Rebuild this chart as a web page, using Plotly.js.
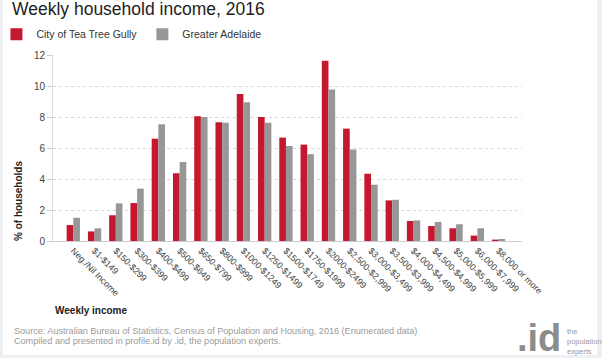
<!DOCTYPE html>
<html>
<head>
<meta charset="utf-8">
<script src="https://cdn.plot.ly/plotly-3.0.1.min.js"></script>
<style>
  html, body { margin: 0; padding: 0; background: #eef0f3; }
  #frame { position: absolute; left: 3px; top: 0; width: 594px; height: 355px; background: #ffffff; }
  #chart { position: absolute; left: 0; top: 0; width: 602px; height: 358px; }
</style>
</head>
<body>
<div id="frame"></div>
<div id="chart"></div>
<script>
const categories = [
  "Neg./Nil Income", "$1-$149", "$150-$299", "$300-$399", "$400-$499",
  "$500-$649", "$650-$799", "$800-$999", "$1000-$1249", "$1250-$1499",
  "$1500-$1749", "$1750-$1999", "$2000-$2499", "$2,500-$2,999", "$3,000-$3,499",
  "$3,500-$3,999", "$4,000-$4,499", "$4,500-$4,999", "$5,000-$5,999", "$6,000-$7,999",
  "$8,000 or more"
];
const teaTreeGully = [1.03, 0.62, 1.66, 2.45, 6.6, 4.37, 8.05, 7.66, 9.48, 8.0,
  6.67, 6.22, 11.63, 7.25, 4.34, 2.62, 1.29, 0.97, 0.82, 0.35, 0.09];
const greaterAdelaide = [1.5, 0.82, 2.43, 3.38, 7.53, 5.1, 8.0, 7.63, 8.95, 7.63,
  6.13, 5.6, 9.78, 5.9, 3.63, 2.66, 1.33, 1.23, 1.08, 0.82, 0.13];
const seriesNames = ["City of Tea Tree Gully", "Greater Adelaide"];
const yTicks = [0, 2, 4, 6, 8, 10, 12];

const FONT = "Liberation Sans, Arial, sans-serif";

const traces = [
  { type: "bar", name: seriesNames[0], x: categories, y: teaTreeGully,
    marker: { color: "#c4182e" }, hoverinfo: "x+y" },
  { type: "bar", name: seriesNames[1], x: categories, y: greaterAdelaide,
    marker: { color: "#979797" }, hoverinfo: "x+y" }
];

const layout = {
  width: 602, height: 358,
  margin: { l: 53, r: 80, t: 55, b: 117, pad: 0, autoexpand: false },
  paper_bgcolor: "rgba(0,0,0,0)",
  plot_bgcolor: "#ffffff",
  font: { family: FONT, color: "#333333" },
  title: {
    text: "Weekly household income, 2016",
    font: { family: FONT, size: 17.5, color: "#222222" },
    x: 12 / 602, xanchor: "left", xref: "container",
    y: 1 - 3 / 358, yanchor: "top", yref: "container"
  },
  showlegend: true,
  legend: {
    orientation: "h",
    x: -0.1206, xanchor: "left",
    y: 1.19, yanchor: "top",
    font: { family: FONT, size: 10.5, color: "#333333" },
    bgcolor: "rgba(0,0,0,0)",
    traceorder: "normal"
  },
  barmode: "group",
  bargap: 0.373,
  bargroupgap: 0,
  xaxis: {
    type: "category",
    range: [-0.954, 21.1],
    tickangle: 45,
    tickfont: { family: FONT, size: 9, color: "#444444" },
    showline: true, linecolor: "#cccccc", linewidth: 1,
    ticks: "", showgrid: false, zeroline: false, fixedrange: true
  },
  yaxis: {
    range: [0, 12],
    tickvals: yTicks,
    ticktext: yTicks.map(String),
    tickfont: { family: FONT, size: 10, color: "#444444" },
    ticks: "outside", ticklen: 5, tickcolor: "#cccccc",
    showline: true, linecolor: "#dddddd", linewidth: 1,
    showgrid: true, gridcolor: "#d6d6d6", griddash: "dot",
    zeroline: false, fixedrange: true
  },
  annotations: [
    { text: "<b>% of households</b>", textangle: -90, showarrow: false,
      xref: "paper", yref: "paper",
      x: (18 - 53) / 469, xanchor: "center",
      y: (241 - 201) / 186, yanchor: "middle",
      font: { family: FONT, size: 10, color: "#222222" } },
    { text: "<b>Weekly income</b>", showarrow: false,
      xref: "paper", yref: "paper",
      x: 0, xanchor: "left",
      y: (241 - 310) / 186, yanchor: "middle",
      font: { family: FONT, size: 10, color: "#222222" } },
    { text: "Source: Australian Bureau of Statistics, Census of Population and Housing, 2016 (Enumerated data)",
      showarrow: false, align: "left",
      xref: "paper", yref: "paper",
      x: (12 - 53) / 469, xanchor: "left",
      y: (241 - 330.5) / 186, yanchor: "middle",
      font: { family: FONT, size: 9.1, color: "#9a9a9a" } },
    { text: "Compiled and presented in profile.id by .id, the population experts.",
      showarrow: false, align: "left",
      xref: "paper", yref: "paper",
      x: (12 - 53) / 469, xanchor: "left",
      y: (241 - 340.5) / 186, yanchor: "middle",
      font: { family: FONT, size: 9.1, color: "#9a9a9a" } },
    { text: "<b>.id</b>", showarrow: false,
      xref: "paper", yref: "paper",
      x: (563 - 53) / 469, xanchor: "right",
      y: (241 - 338) / 186, yanchor: "middle",
      font: { family: FONT, size: 38, color: "#8c8c8c" } },
    { text: "the<br>population<br>experts", showarrow: false, align: "left",
      xref: "paper", yref: "paper",
      x: (565 - 53) / 469, xanchor: "left",
      y: (241 - 341) / 186, yanchor: "middle",
      font: { family: FONT, size: 7.5, color: "#9a9a9a" } }
  ]
};

Plotly.newPlot("chart", traces, layout, { displayModeBar: false, staticPlot: true });
</script>
</body>
</html>
